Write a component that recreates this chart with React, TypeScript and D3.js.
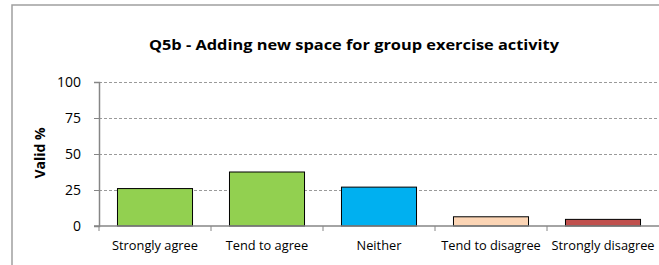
import React, { useEffect, useRef } from 'react';
import * as d3 from 'd3';

const categories = ['Strongly agree', 'Tend to agree', 'Neither', 'Tend to disagree', 'Strongly disagree'];
const values = [26, 37.5, 27, 6.4, 4.6];
const colors = ['#92D050', '#92D050', '#00B0F0', '#FCD5B5', '#C0504D'];
const yTicks = [0, 25, 50, 75, 100];
const title = 'Q5b - Adding new space for group exercise activity';
const yLabel = 'Valid %';

const W = 659;
const H = 265;

export default function App() {
  const ref = useRef<SVGSVGElement>(null);

  useEffect(() => {
    document.body.style.margin = '0';
    document.body.style.overflow = 'hidden';

    const svg = d3.select(ref.current);
    svg.selectAll('*').remove();

    const margin = { top: 82, right: 0, bottom: 39, left: 99 };
    const width = W - margin.left - margin.right;
    const height = H - margin.top - margin.bottom;
    const font = '"Open Sans", sans-serif';

    // outer chart frame, only the left and top edges fall inside the picture
    svg
      .append('path')
      .attr('d', `M12,${H} L12,5 L${W},5`)
      .attr('fill', 'none')
      .attr('stroke', '#a0a0a0')
      .attr('stroke-width', 1.5);

    svg
      .append('text')
      .attr('x', 354)
      .attr('y', 50)
      .attr('text-anchor', 'middle')
      .style('font-family', font)
      .style('font-size', '14.5px')
      .style('font-weight', 'bold')
      .attr('textLength', 410)
      .attr('lengthAdjust', 'spacingAndGlyphs')
      .text(title);

    const g = svg.append('g').attr('transform', `translate(${margin.left}, ${margin.top})`);

    const x = d3.scaleBand().domain(categories).range([0, width]).paddingInner(0.33).paddingOuter(0.165);
    const y = d3.scaleLinear().domain([0, 100]).range([height, 0]);

    // gridlines
    g.append('g')
      .selectAll('line')
      .data(yTicks.filter((t) => t > 0))
      .enter()
      .append('line')
      .attr('x1', 0)
      .attr('x2', width)
      .attr('y1', (d) => Math.round(y(d)) + 0.5)
      .attr('y2', (d) => Math.round(y(d)) + 0.5)
      .attr('stroke', '#9a9a9a')
      .attr('stroke-dasharray', '3,2');

    // bars
    g.append('g')
      .selectAll('rect')
      .data(values)
      .enter()
      .append('rect')
      .attr('x', (d, i) => x(categories[i]) as number)
      .attr('y', (d) => y(d))
      .attr('width', x.bandwidth())
      .attr('height', (d) => height - y(d))
      .attr('fill', (d, i) => colors[i])
      .attr('stroke', '#000')
      .attr('stroke-width', 1);

    // y axis
    const yAxis = g
      .append('g')
      .call(d3.axisLeft(y).tickValues(yTicks).tickSize(5).tickPadding(13).tickFormat(d3.format('d')));
    yAxis.select('.domain').attr('stroke', '#868686').attr('stroke-width', 1.5);
    yAxis.selectAll('.tick line').attr('stroke', '#868686');
    yAxis
      .selectAll('text')
      .style('font-family', font)
      .style('font-size', '14px')
      .attr('fill', '#000');

    // x axis
    const step = x.step();
    const xAxis = g.append('g').attr('transform', `translate(0, ${height})`);
    xAxis
      .append('line')
      .attr('x1', -5)
      .attr('x2', width)
      .attr('stroke', '#868686')
      .attr('stroke-width', 1.5);
    xAxis
      .selectAll('line.tk')
      .data(d3.range(categories.length))
      .enter()
      .append('line')
      .attr('class', 'tk')
      .attr('x1', (i) => i * step)
      .attr('x2', (i) => i * step)
      .attr('y1', 0)
      .attr('y2', 5)
      .attr('stroke', '#868686');
    xAxis
      .selectAll('text')
      .data(categories)
      .enter()
      .append('text')
      .attr('x', (d) => (x(d) as number) + x.bandwidth() / 2)
      .attr('y', 24)
      .attr('text-anchor', 'middle')
      .style('font-family', font)
      .style('font-size', '12.8px')
      .text((d) => d);

    svg
      .append('text')
      .attr('transform', `translate(45, ${margin.top + height / 2 - 1}) rotate(-90)`)
      .attr('text-anchor', 'middle')
      .style('font-family', font)
      .style('font-size', '14px')
      .style('font-weight', 'bold')
      .text(yLabel);
  }, []);

  return <svg ref={ref} width={W} height={H} style={{ display: 'block', background: '#fff' }} />;
}
